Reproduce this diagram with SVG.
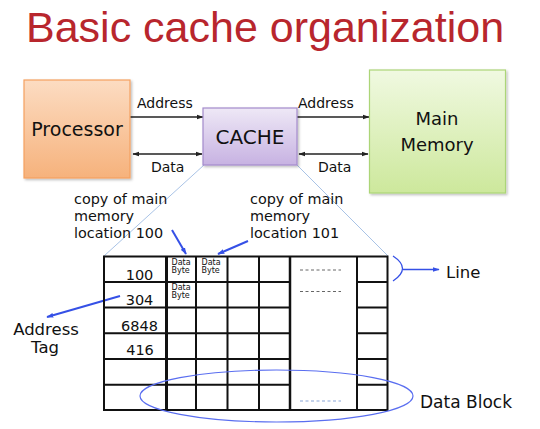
<svg xmlns="http://www.w3.org/2000/svg" width="540" height="429" viewBox="0 0 540 429">
<defs>
<linearGradient id="gProc" x1="0" y1="0" x2="0" y2="1"><stop offset="0" stop-color="#fcdcc2"/><stop offset="1" stop-color="#f6b27c"/></linearGradient>
<linearGradient id="gCache" x1="0" y1="0" x2="0" y2="1"><stop offset="0" stop-color="#eee8f6"/><stop offset="1" stop-color="#c7b2e2"/></linearGradient>
<linearGradient id="gMem" x1="0" y1="0" x2="0" y2="1"><stop offset="0" stop-color="#f0f9e1"/><stop offset="1" stop-color="#cde89c"/></linearGradient>
<marker id="ah" viewBox="0 0 10 10" refX="9" refY="5" markerWidth="7" markerHeight="7" orient="auto-start-reverse" markerUnits="userSpaceOnUse"><path d="M0,1.5 L10,5 L0,8.5 z" fill="#222"/></marker>
<marker id="bh" viewBox="0 0 10 10" refX="9" refY="5" markerWidth="7" markerHeight="7" orient="auto" markerUnits="userSpaceOnUse"><path d="M0,1.5 L10,5 L0,8.5 z" fill="#3550e6"/></marker>
<filter id="sh" x="-10%" y="-10%" width="130%" height="130%"><feDropShadow dx="1.5" dy="1.5" stdDeviation="1" flood-color="#000" flood-opacity="0.25"/></filter>
</defs>
<style>
text{font-family:"DejaVu Sans","Verdana",sans-serif;fill:#111}
.title{font-family:"Liberation Sans",Arial,sans-serif;font-size:43px;fill:#b8262d}
.lbl{font-size:14px}
.big{font-size:19px;text-anchor:middle}
.note{font-size:14.4px}
.num{font-size:14.5px;text-anchor:middle}
.db{font-size:8px}
.conn{stroke:#222;stroke-width:1.6;fill:none}
.blue{stroke:#3550e6;stroke-width:2;fill:none}
.zoom{stroke:#a9c3e6;stroke-width:1;fill:none}
.grid{stroke:#111;stroke-width:2;fill:none}
.dash{stroke:#666;stroke-width:1;stroke-dasharray:3,2.5}
</style>
<text class="title" x="26" y="42">Basic cache organization</text>

<g id="connectors">
<line class="zoom" x1="204" y1="165" x2="104" y2="256"/>
<line class="zoom" x1="297" y1="165" x2="388" y2="256"/>
<line class="conn" x1="130" y1="117" x2="203" y2="117" marker-end="url(#ah)"/>
<line class="conn" x1="133" y1="154" x2="202" y2="154" marker-start="url(#ah)" marker-end="url(#ah)"/>
<line class="conn" x1="297" y1="117" x2="369" y2="117" marker-end="url(#ah)"/>
<line class="conn" x1="299" y1="154" x2="368" y2="154" marker-start="url(#ah)" marker-end="url(#ah)"/>
<line class="blue" x1="172" y1="230" x2="186" y2="254" marker-end="url(#bh)"/>
<line class="blue" x1="248" y1="241" x2="218" y2="254" marker-end="url(#bh)"/>
<line class="blue" x1="120" y1="296" x2="47" y2="317" marker-end="url(#bh)"/>
<path d="M393,256 Q412,268.5 393,281" stroke="#3550e6" stroke-width="1.3" fill="none"/>
<line x1="403" y1="269.5" x2="439" y2="269.5" stroke="#3550e6" stroke-width="1.3" marker-end="url(#bh)"/>
</g>

<g id="processor">
<rect x="24" y="80" width="106" height="98" fill="url(#gProc)" stroke="#f5a160" stroke-width="1.2" filter="url(#sh)"/>
<text class="big" x="77" y="136">Processor</text>
</g>
<g id="cache">
<rect x="203" y="108" width="94" height="57" fill="url(#gCache)" stroke="#a48bcc" stroke-width="1.2" filter="url(#sh)"/>
<text class="big" x="250" y="144" style="font-size:20px">CACHE</text>
</g>
<g id="main-memory">
<rect x="369.5" y="70" width="136" height="123" fill="url(#gMem)" stroke="#acd577" stroke-width="1.2" filter="url(#sh)"/>
<text class="big" x="437" y="125" style="font-size:18px">Main</text>
<text class="big" x="437" y="151" style="font-size:18px">Memory</text>
</g>

<g id="bus-labels">
<text class="lbl" x="137" y="108">Address</text>
<text class="lbl" x="151" y="172">Data</text>
<text class="lbl" x="298" y="108">Address</text>
<text class="lbl" x="318" y="172">Data</text>
</g>

<g id="note-100">
<text class="note" x="74" y="203.8">copy of main</text>
<text class="note" x="74" y="220.7">memory</text>
<text class="note" x="74" y="237.6">location 100</text>
</g>
<g id="note-101">
<text class="note" x="250" y="203.8">copy of main</text>
<text class="note" x="250" y="220.7">memory</text>
<text class="note" x="250" y="237.6">location 101</text>
</g>

<g id="cache-table">
<rect class="grid" x="104" y="256.5" width="283.5" height="153.5"/>
<g class="grid">
<path d="M104,282H290M104,307.5H290M104,333.2H290M104,359H290M104,384.7H290"/>
<path d="M357,282H387.5M357,307.5H387.5M357,333.2H387.5M357,359H387.5M357,384.7H387.5"/>
<path d="M196,256.5V410M227.5,256.5V410M259,256.5V410M357,256.5V410"/>
</g>
<line x1="166.5" y1="256.5" x2="166.5" y2="410" stroke="#111" stroke-width="3"/>
<line x1="290" y1="256.5" x2="290" y2="410" stroke="#111" stroke-width="2.5"/>
<line class="dash" x1="300" y1="270" x2="341" y2="270"/>
<line class="dash" x1="300" y1="291.5" x2="341" y2="291.5"/>
<line x1="300" y1="401" x2="341" y2="401" stroke="#8aa6d8" stroke-width="1.2" stroke-dasharray="3,2.5"/>
<text class="num" x="139.5" y="280">100</text>
<text class="num" x="139.5" y="305">304</text>
<text class="num" x="139.5" y="331">6848</text>
<text class="num" x="140" y="355">416</text>
<text class="db" x="171.5" y="264.5">Data</text>
<text class="db" x="171.5" y="272.5">Byte</text>
<text class="db" x="201.5" y="264.5">Data</text>
<text class="db" x="201.5" y="272.5">Byte</text>
<text class="db" x="171.5" y="290">Data</text>
<text class="db" x="171.5" y="298">Byte</text>
</g>

<g id="address-tag">
<text style="font-size:16.5px;text-anchor:middle" x="46" y="335">Address</text>
<text style="font-size:16.5px;text-anchor:middle" x="45" y="353">Tag</text>
</g>
<g id="line-label">
<text style="font-size:16.5px" x="446" y="278">Line</text>
</g>
<g id="data-block">
<ellipse cx="276.5" cy="396" rx="136.5" ry="26" fill="none" stroke="#5a6ef0" stroke-width="1.2"/>
<text style="font-size:17px" x="420" y="408">Data Block</text>
</g>
</svg>
